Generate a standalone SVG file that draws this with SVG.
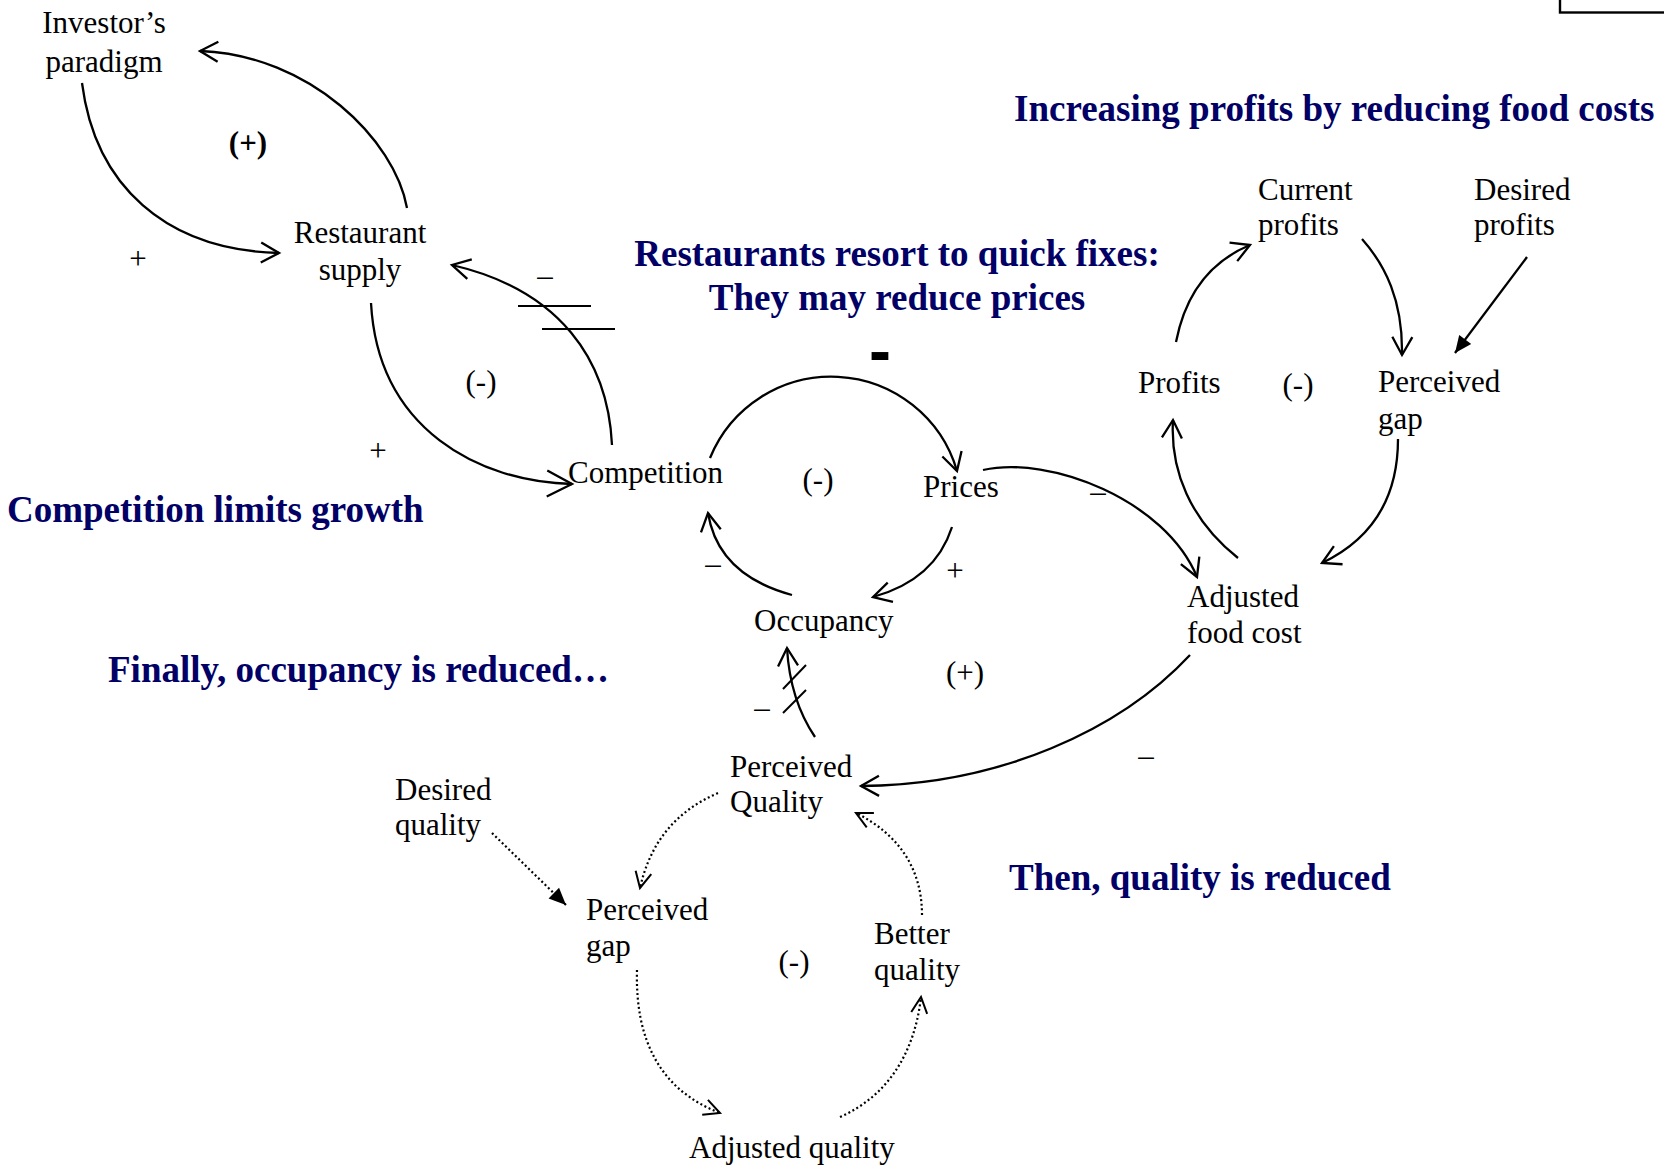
<svg xmlns="http://www.w3.org/2000/svg" width="1664" height="1176" viewBox="0 0 1664 1176">
  <style>
    text { font-family: "Liberation Serif", "Times New Roman", serif; }
    .n { font-size: 31px; fill: #000; }
    .b { font-weight: bold; }
    .mid { text-anchor: middle; }
    .cap { font-size: 37px; font-weight: bold; fill: #000066; }
    .link { fill: none; stroke: #000; stroke-width: 2.3; }
    .dot { fill: none; stroke: #000; stroke-width: 2.2; stroke-dasharray: 2 2.6; }
    .tick { stroke: #000; stroke-width: 2; fill: none; }
  </style>
  <defs>
    <marker id="open" markerUnits="userSpaceOnUse" orient="auto" overflow="visible" refX="0" refY="0" markerWidth="1" markerHeight="1">
      <path d="M-18,-10 L0,0 L-18,10" fill="none" stroke="#000" stroke-width="2.3"/>
    </marker>
    <marker id="openLarge" markerUnits="userSpaceOnUse" orient="auto" overflow="visible" refX="0" refY="0" markerWidth="1" markerHeight="1">
      <path d="M-25,-13 L0,0 L-25,13" fill="none" stroke="#000" stroke-width="2.3"/>
    </marker>
    <marker id="openSmall" markerUnits="userSpaceOnUse" orient="auto" overflow="visible" refX="0" refY="0" markerWidth="1" markerHeight="1">
      <path d="M-16,-8 L0,0 L-16,8" fill="none" stroke="#000" stroke-width="2"/>
    </marker>
    <marker id="solid" markerUnits="userSpaceOnUse" orient="auto" overflow="visible" refX="0" refY="0" markerWidth="1" markerHeight="1">
      <path d="M-17,-7.5 L0,0 L-17,7.5 Z" fill="#000"/>
    </marker>
  </defs>

  <rect x="0" y="0" width="1664" height="1176" fill="#fff"/>

  <!-- corner frame -->
  <rect x="1560" y="-12" width="120" height="24.5" fill="none" stroke="#000" stroke-width="2.4"/>

  <!-- captions -->
  <g id="captions">
    <text class="cap" x="1014" y="121">Increasing profits by reducing food costs</text>
    <text class="cap mid" x="897" y="266">Restaurants resort to quick fixes:</text>
    <text class="cap mid" x="897" y="310">They may reduce prices</text>
    <text class="cap" x="7" y="522">Competition limits growth</text>
    <text class="cap" x="108" y="682">Finally, occupancy is reduced…</text>
    <text class="cap" x="1009" y="890">Then, quality is reduced</text>
  </g>

  <!-- connectors -->
  <g id="connectors">
    <!-- growth loop -->
    <path class="link" d="M82,83 C95,185 165,250 279,253" marker-end="url(#open)"/>
    <path class="link" d="M407,208 C395,140 310,55 200,51" marker-end="url(#open)"/>
    <!-- limits loop -->
    <path class="link" d="M371,303 C378,430 480,482 572,484" marker-end="url(#openLarge)"/>
    <path class="link" d="M612,445 C608,360 560,290 452,265" marker-end="url(#open)"/>
    <line class="tick" x1="518" y1="306" x2="591" y2="306"/>
    <line class="tick" x1="542" y1="329" x2="615" y2="329"/>
    <!-- price loop -->
    <path class="link" d="M710,458 A131,131 0 0 1 957,471" marker-end="url(#open)"/>
    <path class="link" d="M952,527 Q935,580 873,597" marker-end="url(#open)"/>
    <path class="link" d="M792,595 Q718,575 708,513" marker-end="url(#open)"/>
    <!-- food cost loop -->
    <path class="link" d="M983,470 C1050,455 1165,500 1197,577" marker-end="url(#open)"/>
    <path class="link" d="M1238,558 C1190,520 1170,470 1173,420" marker-end="url(#open)"/>
    <path class="link" d="M1176,342 Q1190,270 1250,245" marker-end="url(#open)"/>
    <path class="link" d="M1362,239 C1385,265 1403,300 1402,355" marker-end="url(#open)"/>
    <path class="link" d="M1527,257 L1455,353" marker-end="url(#solid)"/>
    <path class="link" d="M1398,439 C1398,500 1370,540 1322,563" marker-end="url(#open)"/>
    <!-- quality links -->
    <path class="link" d="M1190,655 C1120,730 1000,785 861,786" marker-end="url(#open)"/>
    <path class="link" d="M815,737 Q790,700 787,648" marker-end="url(#open)"/>
    <line class="tick" x1="783" y1="689" x2="806" y2="665"/>
    <line class="tick" x1="783" y1="713" x2="806" y2="690"/>
    <!-- quality gap loop (dotted) -->
    <path class="dot" d="M718,793 Q655,820 640,888" marker-end="url(#openSmall)"/>
    <path class="dot" d="M492,833 L566,905" marker-end="url(#solid)"/>
    <path class="dot" d="M637,970 C635,1040 660,1090 720,1113" marker-end="url(#openSmall)"/>
    <path class="dot" d="M840,1117 C890,1095 915,1050 921,997" marker-end="url(#openSmall)"/>
    <path class="dot" d="M922,915 C922,870 900,835 856,813" marker-end="url(#openSmall)"/>
  </g>

  <!-- link polarities and loop signs -->
  <g id="polarities">
    <text class="n mid" x="138" y="269">+</text>
    <text class="n mid" x="545" y="286">–</text>
    <text class="n mid" x="378" y="461">+</text>
    <text class="n mid" x="713" y="574">–</text>
    <text class="n mid" x="955" y="581">+</text>
    <text class="n mid" x="1098" y="502">–</text>
    <text class="n mid" x="762" y="718">–</text>
    <text class="n mid" x="1146" y="766">–</text>
    <text class="n b mid" x="248" y="153">(+)</text>
    <text class="n mid" x="481" y="392">(-)</text>
    <text class="n mid" x="818" y="490">(-)</text>
    <text class="n mid" x="965" y="683">(+)</text>
    <text class="n mid" x="1298" y="395">(-)</text>
    <text class="n mid" x="794" y="972">(-)</text>
    <text x="880" y="373" style="font-family:'Liberation Sans',Arial,sans-serif;font-size:66px;font-weight:bold;text-anchor:middle">-</text>
  </g>

  <!-- variables -->
  <g id="investors-paradigm">
    <text class="n mid" x="104" y="33">Investor’s</text>
    <text class="n mid" x="104" y="72">paradigm</text>
  </g>
  <g id="restaurant-supply">
    <text class="n mid" x="360" y="243">Restaurant</text>
    <text class="n mid" x="360" y="280">supply</text>
  </g>
  <g id="competition">
    <text class="n" x="568" y="483">Competition</text>
  </g>
  <g id="prices">
    <text class="n" x="923" y="497">Prices</text>
  </g>
  <g id="occupancy">
    <text class="n" x="754" y="631">Occupancy</text>
  </g>
  <g id="profits">
    <text class="n" x="1138" y="393">Profits</text>
  </g>
  <g id="current-profits">
    <text class="n" x="1258" y="200">Current</text>
    <text class="n" x="1258" y="235">profits</text>
  </g>
  <g id="desired-profits">
    <text class="n" x="1474" y="200">Desired</text>
    <text class="n" x="1474" y="235">profits</text>
  </g>
  <g id="profit-gap">
    <text class="n" x="1378" y="392">Perceived</text>
    <text class="n" x="1378" y="429">gap</text>
  </g>
  <g id="adjusted-food-cost">
    <text class="n" x="1187" y="607">Adjusted</text>
    <text class="n" x="1187" y="643">food cost</text>
  </g>
  <g id="perceived-quality">
    <text class="n" x="730" y="777">Perceived</text>
    <text class="n" x="730" y="812">Quality</text>
  </g>
  <g id="desired-quality">
    <text class="n" x="395" y="800">Desired</text>
    <text class="n" x="395" y="835">quality</text>
  </g>
  <g id="quality-gap">
    <text class="n" x="586" y="920">Perceived</text>
    <text class="n" x="586" y="956">gap</text>
  </g>
  <g id="better-quality">
    <text class="n" x="874" y="944">Better</text>
    <text class="n" x="874" y="980">quality</text>
  </g>
  <g id="adjusted-quality">
    <text class="n" x="689" y="1158">Adjusted quality</text>
  </g>
</svg>
